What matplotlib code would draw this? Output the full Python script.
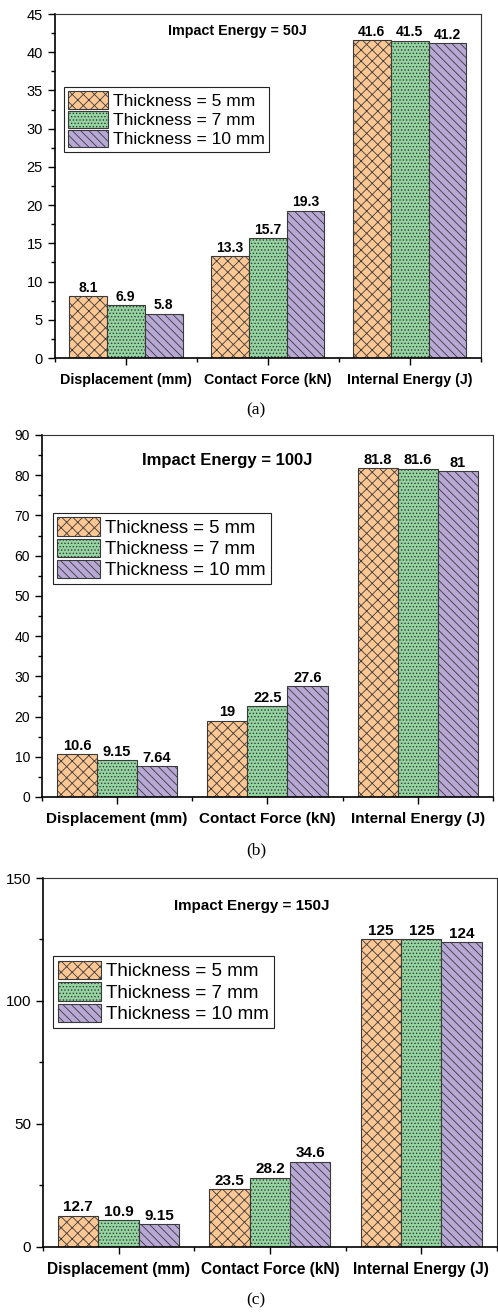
#!/usr/bin/python3
# Bar charts of impact results for three plate thicknesses at 50J, 100J, 150J

# Packages
import numpy as np
import matplotlib
matplotlib.use('Agg')
import matplotlib.pyplot as plt
from matplotlib.ticker import MultipleLocator, FixedLocator

# Data
categories = ['Displacement (mm)', 'Contact Force (kN)', 'Internal Energy (J)']
series_names = ['Thickness = 5 mm', 'Thickness = 7 mm', 'Thickness = 10 mm']

# Impact energy = 50J
t5_50 = [8.1, 13.3, 41.6]
t7_50 = [6.9, 15.7, 41.5]
t10_50 = [5.8, 19.3, 41.2]

# Impact energy = 100J
t5_100 = [10.6, 19, 81.8]
t7_100 = [9.15, 22.5, 81.6]
t10_100 = [7.64, 27.6, 81]

# Impact energy = 150J
t5_150 = [12.7, 23.5, 125]
t7_150 = [10.9, 28.2, 125]
t10_150 = [9.15, 34.6, 124]

# Style
plt.rcParams['font.family'] = ['Liberation Sans', 'DejaVu Sans']
plt.rcParams['hatch.linewidth'] = 0.6
colors = ['#fdc794', '#93d4a0', '#b8a8d6']
hatches = ['xxx', '.....', '\\\\\\\\']
edge = '#3a3a3a'

fig = plt.figure(figsize=(4.98, 13.13), dpi=100)


def panel(rect, series, ymax, ystep, yminor, title, title_xy, leg_xy, fs):
    # fs: (ticks, values, xlabels, title, legend) font sizes
    ax = fig.add_axes(rect)
    x = np.arange(len(categories))
    width = 0.8 / 3
    for i, vals in enumerate(series):
        bars = ax.bar(
            x + (i - 1) * width, vals, width,
            color=colors[i], hatch=hatches[i], edgecolor=edge,
            linewidth=0.8, label=series_names[i]
        )
        ax.bar_label(
            bars, labels=['{:g}'.format(v) for v in vals],
            padding=1, fontsize=fs[1], fontweight='bold'
        )

    # Axes limits and ticks
    ax.set_xlim(-0.5, 2.5)
    ax.set_ylim(0, ymax)
    ax.yaxis.set_major_locator(MultipleLocator(ystep))
    ax.yaxis.set_minor_locator(MultipleLocator(yminor))
    ax.set_xticks(x)
    ax.set_xticklabels(categories, fontsize=fs[2], fontweight='bold')
    ax.xaxis.set_minor_locator(FixedLocator([-0.5, 0.5, 1.5, 2.5]))
    ax.tick_params(axis='both', which='major', direction='out', length=5,
                   width=1, labelsize=fs[0])
    ax.tick_params(axis='x', which='major', labelsize=fs[2], pad=6)
    ax.tick_params(axis='both', which='minor', direction='out', length=3,
                   width=1)
    for s in ['left', 'bottom']:
        ax.spines[s].set_linewidth(1.2)
    for s in ['top', 'right']:
        ax.spines[s].set_linewidth(0.8)
        ax.spines[s].set_color('#333333')

    # Title inside plot
    ax.text(title_xy[0], title_xy[1], title, transform=ax.transAxes,
            ha='center', va='center', fontsize=fs[3], fontweight='bold')

    # Legend
    leg = ax.legend(
        loc='upper left', bbox_to_anchor=leg_xy, fontsize=fs[4],
        frameon=True, fancybox=False, framealpha=1, edgecolor='#222222',
        handlelength=2.3, handleheight=1.15, handletextpad=0.3,
        borderpad=0.25, borderaxespad=0, labelspacing=0.1
    )
    leg.get_frame().set_linewidth(0.8)
    return ax


serif = ['Liberation Serif', 'DejaVu Serif']

# Panel (a)
panel([0.110, 0.7273, 0.855, 0.262], [t5_50, t7_50, t10_50], 45, 5, 2.5,
      'Impact Energy = 50J', (0.43, 0.95), (0.021, 0.788),
      (10.5, 10, 10.3, 10.3, 12.5))
fig.text(0.514, 1 - 410 / 1313, '(a)', ha='center', va='center',
         family=serif, fontsize=12.5)

# Panel (b)
panel([0.084, 0.393, 0.906, 0.2757], [t5_100, t7_100, t10_100], 90, 10, 5,
      'Impact Energy = 100J', (0.41, 0.93), (0.024, 0.785),
      (10, 10.5, 11, 12, 13.3))
fig.text(0.514, 1 - 850 / 1313, '(b)', ha='center', va='center',
         family=serif, fontsize=12.5)

# Panel (c)
panel([0.0863, 0.0503, 0.9116, 0.281], [t5_150, t7_150, t10_150], 150, 50, 25,
      'Impact Energy = 150J', (0.46, 0.924), (0.022, 0.789),
      (11, 11, 11.2, 10.9, 13.5))
fig.text(0.514, 1 - 1300 / 1313, '(c)', ha='center', va='center',
         family=serif, fontsize=12.5)

# Save
fig.savefig('out.png', dpi=100, facecolor='white')
